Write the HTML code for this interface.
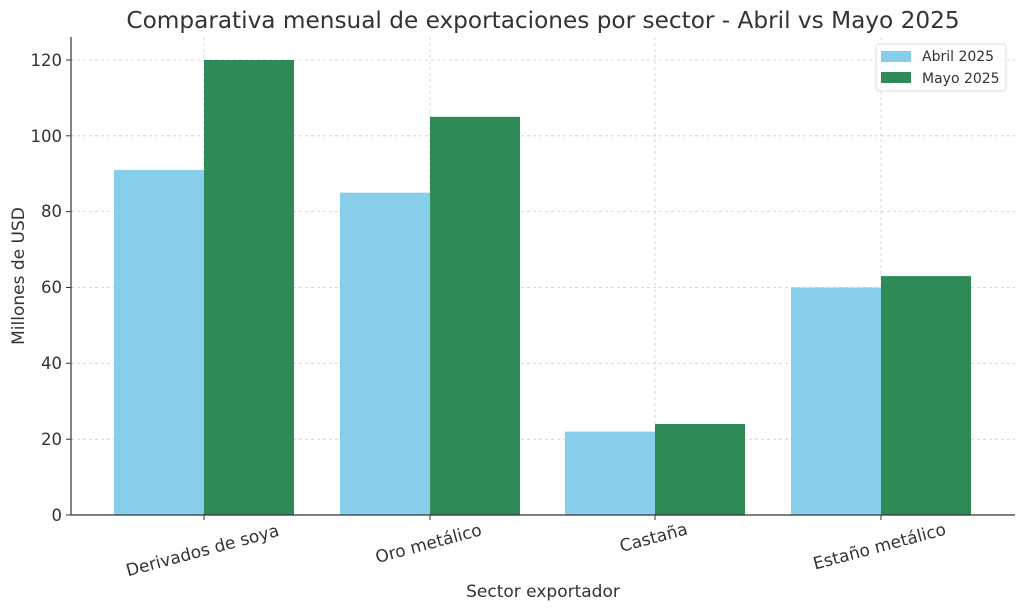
<!DOCTYPE html>
<html><head><meta charset="utf-8"><style>body{margin:0;background:#fff}svg{display:block}</style></head><body>
<svg width="1024" height="611" xmlns="http://www.w3.org/2000/svg" font-family="DejaVu Sans, Liberation Sans, sans-serif" fill="#333">
<rect width="1024" height="611" fill="#fff"/>
<g stroke="#ccc" stroke-dasharray="3,3" stroke-width="0.8">
<line x1="71" x2="1015" y1="439.2" y2="439.2"/><line x1="71" x2="1015" y1="363.3" y2="363.3"/><line x1="71" x2="1015" y1="287.5" y2="287.5"/><line x1="71" x2="1015" y1="211.6" y2="211.6"/><line x1="71" x2="1015" y1="135.8" y2="135.8"/><line x1="71" x2="1015" y1="60" y2="60"/>
<line x1="204" x2="204" y1="37" y2="515"/><line x1="430" x2="430" y1="37" y2="515"/><line x1="655" x2="655" y1="37" y2="515"/><line x1="881" x2="881" y1="37" y2="515"/>
</g>
<g fill="#87ceeb"><rect x="114" y="169.9" width="90" height="345.1"/><rect x="340" y="192.7" width="90" height="322.3"/><rect x="565" y="431.6" width="90" height="83.4"/><rect x="791" y="287.5" width="90" height="227.5"/></g>
<g fill="#2e8b57"><rect x="204" y="60" width="90" height="455"/><rect x="430" y="116.8" width="90" height="398.2"/><rect x="655" y="424" width="90" height="91"/><rect x="881" y="276.1" width="90" height="238.9"/></g>
<line x1="71" x2="71" y1="37" y2="515" stroke="#333" stroke-width="1.2"/>
<line x1="71" x2="1015" y1="515" y2="515" stroke="#333" stroke-width="1.2"/>
<g stroke="#333"><line x1="66" x2="71" y1="515" y2="515"/><line x1="66" x2="71" y1="439.2" y2="439.2"/><line x1="66" x2="71" y1="363.3" y2="363.3"/><line x1="66" x2="71" y1="287.5" y2="287.5"/><line x1="66" x2="71" y1="211.6" y2="211.6"/><line x1="66" x2="71" y1="135.8" y2="135.8"/><line x1="66" x2="71" y1="60" y2="60"/>
<line x1="204" x2="204" y1="515" y2="520"/><line x1="430" x2="430" y1="515" y2="520"/><line x1="655" x2="655" y1="515" y2="520"/><line x1="881" x2="881" y1="515" y2="520"/></g>
<g font-size="16.5" text-anchor="end"><text x="62" y="521">0</text><text x="62" y="445">20</text><text x="62" y="369">40</text><text x="62" y="293">60</text><text x="62" y="217">80</text><text x="62" y="142">100</text><text x="62" y="66">120</text></g>
<g font-size="17" text-anchor="middle">
<text transform="translate(204,556) rotate(-15)">Derivados de soya</text>
<text transform="translate(430,549) rotate(-15)">Oro metálico</text>
<text transform="translate(655,543) rotate(-15)">Castaña</text>
<text transform="translate(881,552) rotate(-15)">Estaño metálico</text>
<text x="543" y="597">Sector exportador</text>
<text transform="translate(24,276) rotate(-90)">Millones de USD</text>
</g>
<text x="543" y="28" font-size="23.2" text-anchor="middle">Comparativa mensual de exportaciones por sector - Abril vs Mayo 2025</text>
<rect x="876" y="44" width="130" height="47" rx="3" fill="#fff" fill-opacity="0.8" stroke="#ddd"/>
<rect x="881" y="51" width="30" height="11" fill="#87ceeb"/><rect x="881" y="72" width="30" height="11" fill="#2e8b57"/>
<text x="922" y="61" font-size="14">Abril 2025</text><text x="922" y="83" font-size="14">Mayo 2025</text>
</svg>
</body></html>
